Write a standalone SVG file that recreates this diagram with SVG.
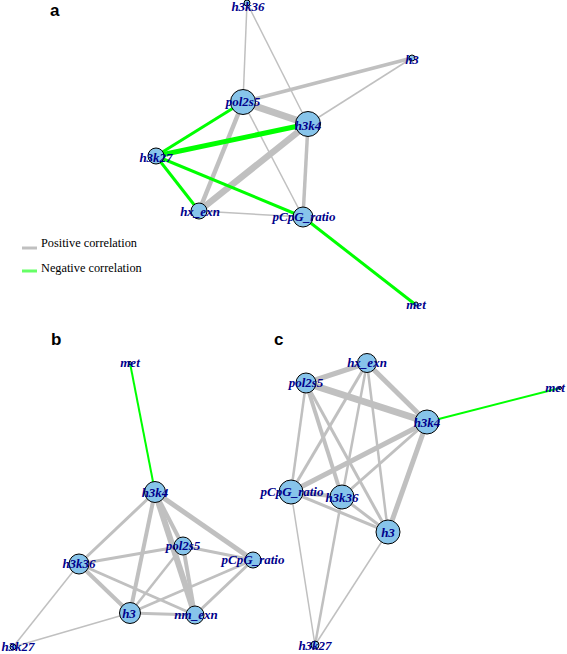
<svg xmlns="http://www.w3.org/2000/svg" width="567" height="654" viewBox="0 0 567 654">
<style>
.p{stroke:#c0c0c0;fill:none}
.n{stroke:#00ff00;fill:none}
.nd{fill:#87c4ea;stroke:#000;stroke-width:1}
.lb{font-family:"Liberation Serif",serif;font-style:italic;font-weight:bold;font-size:13px;fill:#00008b;text-anchor:middle}
.pl{font-family:"Liberation Sans",Arial,sans-serif;font-weight:bold;font-size:17px;fill:#000}
.lg{font-family:"Liberation Serif",serif;font-size:12.3px;fill:#000}
</style>
<rect width="567" height="654" fill="#fff"/>
<text class="pl" x="50" y="16">a</text>
<text class="pl" x="51" y="345">b</text>
<text class="pl" x="274" y="345">c</text>
<g id="connectors">
<!-- panel a -->
<line class="p" x1="247" y1="3" x2="243" y2="102" stroke-width="1.5"/>
<line class="p" x1="247" y1="3" x2="308" y2="124" stroke-width="1.5"/>
<line class="p" x1="412" y1="58" x2="243" y2="102" stroke-width="3.5"/>
<line class="p" x1="412" y1="58" x2="308" y2="124" stroke-width="1.5"/>
<line class="p" x1="243" y1="102" x2="308" y2="124" stroke-width="7"/>
<line class="p" x1="243" y1="102" x2="199" y2="211" stroke-width="4.5"/>
<line class="p" x1="243" y1="102" x2="303" y2="217" stroke-width="1.5"/>
<line class="p" x1="308" y1="124" x2="199" y2="211" stroke-width="6.5"/>
<line class="p" x1="308" y1="124" x2="303" y2="217" stroke-width="3.5"/>
<line class="p" x1="199" y1="211" x2="303" y2="217" stroke-width="1.5"/>
<line class="n" x1="156" y1="156" x2="243" y2="102" stroke-width="3"/>
<line class="n" x1="156" y1="156" x2="308" y2="124" stroke-width="5"/>
<line class="n" x1="156" y1="156" x2="199" y2="211" stroke-width="3"/>
<line class="n" x1="156" y1="156" x2="303" y2="217" stroke-width="3"/>
<line class="n" x1="303" y1="217" x2="416" y2="305" stroke-width="3"/>
<!-- panel b -->
<line class="n" x1="130" y1="363" x2="155" y2="492" stroke-width="2"/>
<line class="p" x1="155" y1="492" x2="79" y2="564" stroke-width="3"/>
<line class="p" x1="155" y1="492" x2="130" y2="613" stroke-width="4"/>
<line class="p" x1="155" y1="492" x2="183" y2="546" stroke-width="4"/>
<line class="p" x1="155" y1="492" x2="195" y2="615" stroke-width="6"/>
<line class="p" x1="155" y1="492" x2="253" y2="560" stroke-width="5"/>
<line class="p" x1="79" y1="564" x2="183" y2="546" stroke-width="3"/>
<line class="p" x1="79" y1="564" x2="130" y2="613" stroke-width="4"/>
<line class="p" x1="79" y1="564" x2="195" y2="615" stroke-width="3"/>
<line class="p" x1="79" y1="564" x2="13" y2="647" stroke-width="1.5"/>
<line class="p" x1="183" y1="546" x2="130" y2="613" stroke-width="2.5"/>
<line class="p" x1="183" y1="546" x2="253" y2="560" stroke-width="3"/>
<line class="p" x1="183" y1="546" x2="195" y2="615" stroke-width="4"/>
<line class="p" x1="253" y1="560" x2="130" y2="613" stroke-width="2.5"/>
<line class="p" x1="253" y1="560" x2="195" y2="615" stroke-width="3"/>
<line class="p" x1="130" y1="613" x2="195" y2="615" stroke-width="3"/>
<line class="p" x1="130" y1="613" x2="13" y2="647" stroke-width="1.5"/>
<!-- panel c -->
<line class="n" x1="560" y1="388" x2="427" y2="422" stroke-width="2"/>
<line class="p" x1="367" y1="363" x2="306" y2="383" stroke-width="5"/>
<line class="p" x1="367" y1="363" x2="427" y2="422" stroke-width="5"/>
<line class="p" x1="367" y1="363" x2="291" y2="492" stroke-width="3"/>
<line class="p" x1="367" y1="363" x2="342" y2="497" stroke-width="2.5"/>
<line class="p" x1="367" y1="363" x2="388" y2="532" stroke-width="2.5"/>
<line class="p" x1="306" y1="383" x2="427" y2="422" stroke-width="7"/>
<line class="p" x1="306" y1="383" x2="291" y2="492" stroke-width="2.5"/>
<line class="p" x1="306" y1="383" x2="342" y2="497" stroke-width="4"/>
<line class="p" x1="306" y1="383" x2="388" y2="532" stroke-width="3"/>
<line class="p" x1="427" y1="422" x2="291" y2="492" stroke-width="5"/>
<line class="p" x1="427" y1="422" x2="342" y2="497" stroke-width="3"/>
<line class="p" x1="427" y1="422" x2="388" y2="532" stroke-width="5"/>
<line class="p" x1="291" y1="492" x2="342" y2="497" stroke-width="4"/>
<line class="p" x1="291" y1="492" x2="388" y2="532" stroke-width="3"/>
<line class="p" x1="291" y1="492" x2="315" y2="645" stroke-width="1.5"/>
<line class="p" x1="342" y1="497" x2="388" y2="532" stroke-width="3"/>
<line class="p" x1="342" y1="497" x2="315" y2="645" stroke-width="2.5"/>
<line class="p" x1="388" y1="532" x2="315" y2="645" stroke-width="1.5"/>
</g>
<g id="legend">
<line x1="22" y1="248" x2="37" y2="248" stroke="#c0c0c0" stroke-width="3"/>
<text class="lg" x="41" y="247">Positive correlation</text>
<line x1="22" y1="271" x2="37" y2="271" stroke="#66ff66" stroke-width="3"/>
<text class="lg" x="41" y="272">Negative correlation</text>
</g>
<!-- panel a nodes -->
<g id="a_h3k36"><circle class="nd" cx="247" cy="3" r="3"/><text class="lb" x="248" y="11">h3k36</text></g>
<g id="a_h3"><circle class="nd" cx="412" cy="58" r="3"/><text class="lb" x="412" y="64">h3</text></g>
<g id="a_pol2s5"><circle class="nd" cx="243" cy="102" r="12.5"/><text class="lb" x="243" y="106">pol2s5</text></g>
<g id="a_h3k4"><circle class="nd" cx="308" cy="124" r="12.5"/><text class="lb" x="308" y="130">h3k4</text></g>
<g id="a_h3k27"><circle class="nd" cx="156" cy="156" r="8"/><text class="lb" x="156" y="162">h3k27</text></g>
<g id="a_hx_exn"><circle class="nd" cx="199" cy="211" r="8"/><text class="lb" x="200" y="216">hx_exn</text></g>
<g id="a_pCpG_ratio"><circle class="nd" cx="303" cy="217" r="10"/><text class="lb" x="304" y="221">pCpG_ratio</text></g>
<g id="a_met"><circle class="nd" cx="416" cy="304" r="2"/><text class="lb" x="416" y="309">met</text></g>
<!-- panel b nodes -->
<g id="b_met"><circle class="nd" cx="130" cy="363" r="1.5"/><text class="lb" x="130" y="367">met</text></g>
<g id="b_h3k4"><circle class="nd" cx="155" cy="492" r="10.5"/><text class="lb" x="155" y="497">h3k4</text></g>
<g id="b_pol2s5"><circle class="nd" cx="183" cy="546" r="9"/><text class="lb" x="183" y="550">pol2s5</text></g>
<g id="b_pCpG_ratio"><circle class="nd" cx="253" cy="560" r="8"/><text class="lb" x="253" y="564">pCpG_ratio</text></g>
<g id="b_h3k36"><circle class="nd" cx="79" cy="564" r="10"/><text class="lb" x="79" y="568">h3k36</text></g>
<g id="b_h3"><circle class="nd" cx="130" cy="613" r="10.5"/><text class="lb" x="129" y="618">h3</text></g>
<g id="b_nm_exn"><circle class="nd" cx="195" cy="615" r="9"/><text class="lb" x="196" y="619">nm_exn</text></g>
<g id="b_h3k27"><circle class="nd" cx="13" cy="647" r="3"/><text class="lb" x="18" y="651">h3k27</text></g>
<!-- panel c nodes -->
<g id="c_hx_exn"><circle class="nd" cx="367" cy="363" r="9.5"/><text class="lb" x="367" y="367">hx_exn</text></g>
<g id="c_pol2s5"><circle class="nd" cx="306" cy="383" r="10"/><text class="lb" x="306" y="387">pol2s5</text></g>
<g id="c_met"><circle class="nd" cx="560" cy="388" r="1.5"/><text class="lb" x="555" y="392">met</text></g>
<g id="c_h3k4"><circle class="nd" cx="427" cy="422" r="12"/><text class="lb" x="427" y="427">h3k4</text></g>
<g id="c_pCpG_ratio"><circle class="nd" cx="291" cy="492" r="12"/><text class="lb" x="292" y="496">pCpG_ratio</text></g>
<g id="c_h3k36"><circle class="nd" cx="342" cy="497" r="12"/><text class="lb" x="342" y="502">h3k36</text></g>
<g id="c_h3"><circle class="nd" cx="388" cy="532" r="12"/><text class="lb" x="388" y="537">h3</text></g>
<g id="c_h3k27"><circle class="nd" cx="315" cy="645" r="4"/><text class="lb" x="315" y="650">h3k27</text></g>
</svg>
